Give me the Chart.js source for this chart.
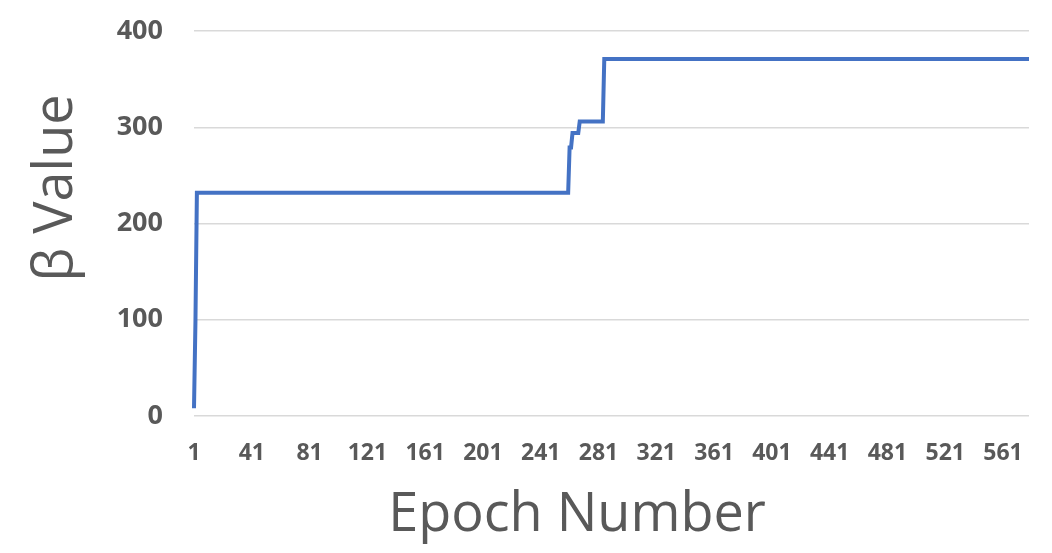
<!DOCTYPE html>
<html>
<head>
<meta charset="utf-8">
<script src="https://cdn.jsdelivr.net/npm/chart.js@4"></script>
<style>
  html, body { margin: 0; padding: 0; background: #ffffff; }
  #wrap { width: 1052px; height: 553px; }
</style>
</head>
<body>
<div id="wrap"><canvas id="chart" width="1052" height="553"></canvas></div>
<script>
'use strict'

// ------------- Data ------------- //
var epochCount = 579;
// beta holds its value from each start epoch until the next one
var stepStarts = [1, 2, 3, 261, 263, 268, 285];
var stepValues = [8, 98, 232, 279, 294, 306, 371];
var tickLabels = ['1', '41', '81', '121', '161', '201', '241', '281', '321', '361', '401', '441', '481', '521', '561'];
var yTicks = [0, 100, 200, 300, 400];
var xTitle = 'Epoch Number';
var yTitle = 'β Value';

var epochs = [];
var betaValues = [];
var textGrey = '#595959';

function buildSeries(){
  var s = 0;
  for (let e = 1; e <= epochCount; e++) {
    while (s + 1 < stepStarts.length && e >= stepStarts[s + 1])
      s++;
    epochs.push(String(e));
    betaValues.push(stepValues[s]);
  }
}

// axis titles drawn by hand so they sit where the original puts them
var axisTitles = {
  id: 'axisTitles',
  afterDraw: function(chart){
    var c = chart.ctx;
    c.save();
    c.fillStyle = textGrey;
    c.font = '54px "Open Sans"';
    c.textAlign = 'center';
    c.textBaseline = 'middle';
    c.fillText(xTitle, 577, 516);
    c.translate(57, 188);
    c.rotate(-Math.PI / 2);
    c.fillText(yTitle, 0, 0);
    c.restore();
  }
};

// keep the plot box fixed, no extra room for label overflow
function noPadding(scale){
  scale.paddingTop = 0;
  scale.paddingBottom = 0;
  scale.paddingLeft = 0;
  scale.paddingRight = 0;
}

//------------- Init chart------------- //
function initChart(){
  var ctx = document.getElementById('chart').getContext('2d');

  new Chart(ctx, {
    type: 'line',
    data: {
      labels: epochs,
      datasets: [{
        label: 'beta',
        data: betaValues,
        borderColor: '#4472C4',
        borderWidth: 4,
        pointRadius: 0,
        fill: false,
        tension: 0,
        borderJoinStyle: 'miter'
      }]
    },
    options: {
      responsive: false,
      animation: false,
      layout: { padding: { left: 0, right: 23, top: 31, bottom: 0 } },
      plugins: {
        legend: { display: false },
        tooltip: { enabled: false }
      },
      scales: {
        x: {
          type: 'category',
          offset: false,
          grid: { display: false },
          border: { display: false },
          ticks: {
            autoSkip: false,
            maxRotation: 0,
            padding: 16,
            color: textGrey,
            font: { family: '"Open Sans"', size: 23, weight: 'bold' },
            callback: function(val, idx){
              var lab = this.getLabelForValue(val);
              return tickLabels.indexOf(lab) >= 0 ? lab : '';
            }
          },
          afterFit: function(scale){
            scale.height = 137;
            noPadding(scale);
          }
        },
        y: {
          min: 0,
          max: 400,
          afterBuildTicks: function(scale){
            scale.ticks = yTicks.map(function(v){ return { value: v }; });
          },
          grid: { color: '#d9d9d9', lineWidth: 1.5, drawTicks: false },
          border: { display: false },
          ticks: {
            padding: 31,
            color: textGrey,
            font: { family: '"Open Sans"', size: 27, weight: 'bold' }
          },
          afterFit: function(scale){
            scale.width = 194;
            noPadding(scale);
          }
        }
      }
    },
    plugins: [axisTitles]
  });
}

buildSeries();
initChart();
</script>
</body>
</html>
